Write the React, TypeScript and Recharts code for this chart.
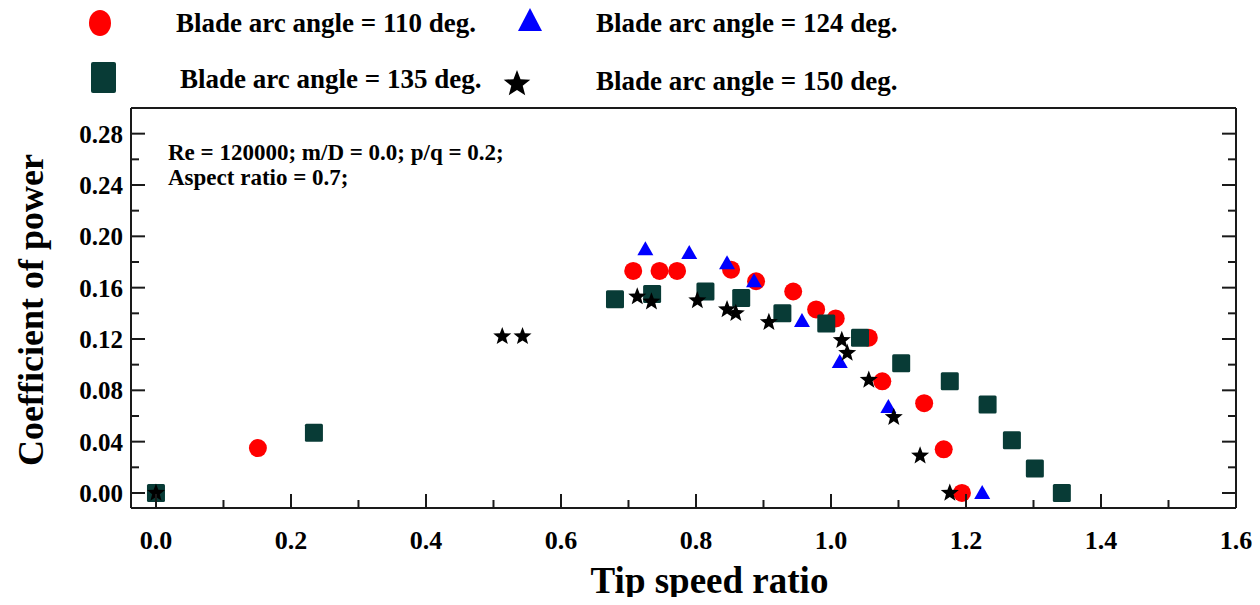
import React from 'react';
import { ScatterChart, Scatter, XAxis, YAxis, Customized } from 'recharts';

// ---- data ----
const xTicks = [0, 0.1, 0.2, 0.3, 0.4, 0.5, 0.6, 0.7, 0.8, 0.9, 1.0, 1.1, 1.2, 1.3, 1.4, 1.5, 1.6];
const yTicks = [0, 0.02, 0.04, 0.06, 0.08, 0.1, 0.12, 0.14, 0.16, 0.18, 0.2, 0.22, 0.24, 0.26, 0.28];

const tsr110 = [0.151, 0.707, 0.746, 0.772, 0.852, 0.889, 0.944, 0.978, 1.007, 1.056, 1.076, 1.138, 1.167, 1.194];
const cp110 = [0.035, 0.173, 0.173, 0.173, 0.174, 0.165, 0.157, 0.143, 0.136, 0.121, 0.087, 0.07, 0.034, 0.0];

const tsr124 = [0.725, 0.79, 0.846, 0.886, 0.957, 1.013, 1.085, 1.224];
const cp124 = [0.19, 0.187, 0.179, 0.165, 0.134, 0.102, 0.067, 0.0];

const tsr135 = [0, 0.234, 0.68, 0.735, 0.814, 0.867, 0.928, 0.993, 1.043, 1.104, 1.176, 1.232, 1.268, 1.302, 1.342];
const cp135 = [0, 0.047, 0.151, 0.155, 0.157, 0.152, 0.14, 0.132, 0.121, 0.101, 0.087, 0.069, 0.041, 0.019, 0.0];

const tsr150 = [0, 0.513, 0.543, 0.713, 0.734, 0.802, 0.846, 0.859, 0.908, 1.016, 1.024, 1.056, 1.093, 1.132, 1.176];
const cp150 = [0, 0.122, 0.122, 0.153, 0.149, 0.15, 0.143, 0.14, 0.133, 0.119, 0.109, 0.088, 0.059, 0.029, 0.0];

const legendLabels = [
  'Blade arc angle = 110 deg.',
  'Blade arc angle = 124 deg.',
  'Blade arc angle = 135 deg.',
  'Blade arc angle = 150 deg.',
];
const noteLines = ['Re = 120000; m/D = 0.0; p/q = 0.2;', 'Aspect ratio = 0.7;'];

const toRows = (xs: number[], ys: number[]) => xs.map((x, i) => ({ x, y: ys[i] }));
const d110 = toRows(tsr110, cp110);
const d124 = toRows(tsr124, cp124);
const d135 = toRows(tsr135, cp135);
const d150 = toRows(tsr150, cp150);

// ---- styles ----
const FONT = '"Liberation Serif", "Times New Roman", serif';
const RED = '#ff0000';
const BLUE = '#0000ff';
const TEAL = '#083b36';
const INK = '#1a1a1a';

const starPath = (cx: number, cy: number, ro: number, ri: number) => {
  let d = '';
  for (let i = 0; i < 10; i++) {
    const r = i % 2 === 0 ? ro : ri;
    const a = -Math.PI / 2 + (i * Math.PI) / 5;
    d += (i === 0 ? 'M' : 'L') + (cx + r * Math.cos(a)).toFixed(2) + ',' + (cy + r * Math.sin(a)).toFixed(2);
  }
  return d + 'Z';
};

const Circle = (p: any) => <circle cx={p.cx} cy={p.cy} r={9} fill={RED} />;
const Tri = (p: any) => (
  <path d={`M${p.cx},${p.cy - 8} L${p.cx + 8},${p.cy + 6} L${p.cx - 8},${p.cy + 6} Z`} fill={BLUE} />
);
const Sq = (p: any) => <rect x={p.cx - 9} y={p.cy - 9} width={18} height={18} rx={1.5} fill={TEAL} />;
const Star = (p: any) => <path d={starPath(p.cx, p.cy, 9.5, 4)} fill="#000" />;

const isMajorX = (v: number) => Math.abs(Math.round(v * 10) % 2) === 0;
const isMajorY = (v: number) => Math.abs(Math.round(v * 100) % 4) === 0;

const BottomTick = (p: any) => {
  const v = p.payload.value;
  const major = isMajorX(v);
  return (
    <g>
      <line x1={p.x} y1={p.y} x2={p.x} y2={p.y - (major ? 14 : 8)} stroke={INK} strokeWidth={2} />
      {major && (
        <text x={p.x} y={p.y + 41} textAnchor="middle" fontFamily={FONT} fontWeight="bold" fontSize={26} fill="#000">
          {v.toFixed(1)}
        </text>
      )}
    </g>
  );
};
const TopTick = (p: any) => {
  const major = isMajorX(p.payload.value);
  return <line x1={p.x} y1={p.y} x2={p.x} y2={p.y + (major ? 14 : 8)} stroke={INK} strokeWidth={2} />;
};
const LeftTick = (p: any) => {
  const v = p.payload.value;
  const major = isMajorY(v);
  return (
    <g>
      <line x1={p.x} y1={p.y} x2={p.x + (major ? 14 : 8)} y2={p.y} stroke={INK} strokeWidth={2} />
      {major && (
        <text x={p.x - 8} y={p.y + 9} textAnchor="end" fontFamily={FONT} fontWeight="bold" fontSize={25} fill="#000">
          {v.toFixed(2)}
        </text>
      )}
    </g>
  );
};
const RightTick = (p: any) => {
  const major = isMajorY(p.payload.value);
  return <line x1={p.x} y1={p.y} x2={p.x - (major ? 14 : 8)} y2={p.y} stroke={INK} strokeWidth={2} />;
};

const XTitle = (props: any) => {
  const vb = props.viewBox;
  return (
    <text x={vb.x + vb.width / 2 + 26} y={vb.y + vb.height - 4} textAnchor="middle" fontFamily={FONT} fontWeight="bold" fontSize={37} fill="#000">
      Tip speed ratio
    </text>
  );
};
const YTitle = (props: any) => {
  const vb = props.viewBox;
  const x = vb.x + 35;
  const y = vb.y + vb.height / 2 + 2;
  return (
    <text x={x} y={y} transform={`rotate(-90 ${x} ${y})`} textAnchor="middle" fontFamily={FONT} fontWeight="bold" fontSize={36} fill="#000">
      Coefficient of power
    </text>
  );
};

const Overlay = () => {
  const t = { fontFamily: FONT, fontWeight: 'bold' as const, fill: '#000' };
  return (
    <g>
      {/* legend */}
      <ellipse cx={100} cy={23} rx={11} ry={13} fill={RED} />
      <text x={176} y={32} fontSize={27} {...t}>{legendLabels[0]}</text>
      <path d="M530,8 L542,31 L518,31 Z" fill={BLUE} />
      <text x={596} y={32} fontSize={27} {...t}>{legendLabels[1]}</text>
      <rect x={91} y={62} width={25} height={31} rx={2} fill={TEAL} />
      <text x={180} y={88} fontSize={27} {...t}>{legendLabels[2]}</text>
      <path d={starPath(517, 84, 14, 6)} fill="#000" />
      <text x={596} y={90} fontSize={27} {...t}>{legendLabels[3]}</text>
      {/* annotation */}
      <text x={168} y={160} fontSize={23} {...t}>{noteLines[0]}</text>
      <text x={168} y={185} fontSize={23} {...t}>{noteLines[1]}</text>
    </g>
  );
};

export default function App() {
  return (
    <div style={{ margin: -8, width: 1260, height: 605, background: '#fff' }}>
      <ScatterChart width={1260} height={605} margin={{ top: 107, right: 23, bottom: 8, left: 8 }}>
        <XAxis
          xAxisId="b"
          dataKey="x"
          type="number"
          orientation="bottom"
          domain={[-0.037, 1.6]}
          ticks={xTicks}
          interval={0}
          allowDataOverflow
          height={89}
          tickSize={0}
          tickMargin={0}
          tickLine={false}
          axisLine={{ stroke: INK, strokeWidth: 2 }}
          tick={<BottomTick />}
          label={<XTitle />}
        />
        <XAxis
          xAxisId="t"
          type="number"
          orientation="top"
          domain={[-0.037, 1.6]}
          ticks={xTicks}
          interval={0}
          allowDataOverflow
          height={1}
          tickSize={0}
          tickMargin={0}
          tickLine={false}
          axisLine={{ stroke: INK, strokeWidth: 2 }}
          tick={<TopTick />}
        />
        <YAxis
          yAxisId="l"
          dataKey="y"
          type="number"
          orientation="left"
          domain={[-0.0117, 0.3]}
          ticks={yTicks}
          interval={0}
          allowDataOverflow
          width={123}
          tickSize={0}
          tickMargin={0}
          tickLine={false}
          axisLine={{ stroke: INK, strokeWidth: 2 }}
          tick={<LeftTick />}
          label={<YTitle />}
        />
        <YAxis
          yAxisId="r"
          type="number"
          orientation="right"
          domain={[-0.0117, 0.3]}
          ticks={yTicks}
          interval={0}
          allowDataOverflow
          width={1}
          tickSize={0}
          tickMargin={0}
          tickLine={false}
          axisLine={{ stroke: INK, strokeWidth: 2 }}
          tick={<RightTick />}
        />
        <Scatter xAxisId="b" yAxisId="l" data={d110} shape={<Circle />} isAnimationActive={false} />
        <Scatter xAxisId="b" yAxisId="l" data={d124} shape={<Tri />} isAnimationActive={false} />
        <Scatter xAxisId="b" yAxisId="l" data={d135} shape={<Sq />} isAnimationActive={false} />
        <Scatter xAxisId="b" yAxisId="l" data={d150} shape={<Star />} isAnimationActive={false} />
        <Customized component={<Overlay />} />
      </ScatterChart>
    </div>
  );
}
